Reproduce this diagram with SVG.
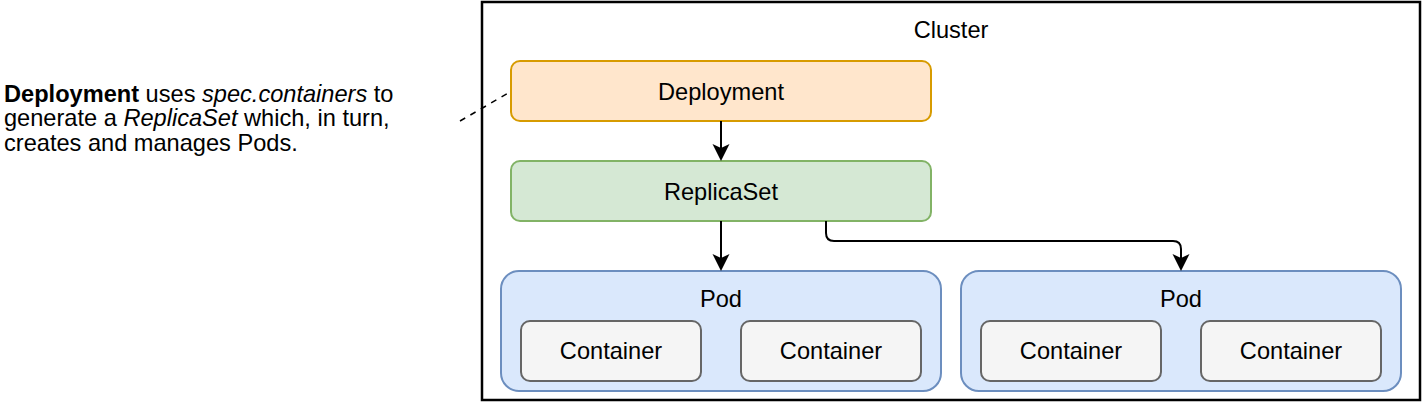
<svg xmlns="http://www.w3.org/2000/svg" width="1422" height="402" viewBox="0 0 1422 402">
<style>
text{font-family:"Liberation Sans",Arial,Helvetica,sans-serif;font-size:23.6px;fill:#000}
.c{text-anchor:middle}
.edge{fill:none;stroke:#000;stroke-width:2}
.dash{fill:none;stroke:#000;stroke-width:1.5;stroke-dasharray:6 6}
.dep{fill:#ffe6cc;stroke:#d79b00;stroke-width:2}
.rs{fill:#d5e8d4;stroke:#82b366;stroke-width:2}
.pod{fill:#dae8fc;stroke:#6c8ebf;stroke-width:2}
.ctr{fill:#f5f5f5;stroke:#666666;stroke-width:2}
</style>
<defs>
<marker id="arr" markerUnits="userSpaceOnUse" markerWidth="20" markerHeight="20" viewBox="-5 -10 20 20" refX="0" refY="0" orient="auto">
<path d="M13,0 L-4,-8.5 L0,0 L-4,8.5 Z" fill="#000"/>
</marker>
</defs>
<g id="cluster">
<rect x="482" y="2" width="938" height="398" fill="#fff" stroke="#000" stroke-width="2.5"/>
<text class="c" x="951" y="37.5">Cluster</text>
</g>
<g id="note">
<text x="4" y="101.7"><tspan font-weight="bold">Deployment</tspan> uses <tspan font-style="italic">spec.containers</tspan> to</text>
<text x="4" y="126.3">generate a <tspan font-style="italic">ReplicaSet</tspan> which, in turn,</text>
<text x="4" y="151">creates and manages Pods.</text>
</g>
<g id="deployment">
<rect class="dep" x="511" y="61" width="420" height="60" rx="9"/>
<text class="c" x="721" y="99.5">Deployment</text>
</g>
<g id="replicaset">
<rect class="rs" x="511" y="161" width="420" height="60" rx="9"/>
<text class="c" x="721" y="199.5">ReplicaSet</text>
</g>
<g id="pod1">
<rect class="pod" x="501" y="271" width="440" height="120" rx="18"/>
<text class="c" x="721" y="307">Pod</text>
</g>
<g id="pod1-container1">
<rect class="ctr" x="521" y="321" width="180" height="60" rx="9"/>
<text class="c" x="611" y="359.4">Container</text>
</g>
<g id="pod1-container2">
<rect class="ctr" x="741" y="321" width="180" height="60" rx="9"/>
<text class="c" x="831" y="359.4">Container</text>
</g>
<g id="pod2">
<rect class="pod" x="961" y="271" width="440" height="120" rx="18"/>
<text class="c" x="1181" y="307">Pod</text>
</g>
<g id="pod2-container1">
<rect class="ctr" x="981" y="321" width="180" height="60" rx="9"/>
<text class="c" x="1071" y="359.4">Container</text>
</g>
<g id="pod2-container2">
<rect class="ctr" x="1201" y="321" width="180" height="60" rx="9"/>
<text class="c" x="1291" y="359.4">Container</text>
</g>
<g id="connectors">
<path class="dash" d="M460,121 L511,91.5"/>
<path class="edge" d="M721,121 V148" marker-end="url(#arr)"/>
<path class="edge" d="M721,221 V258" marker-end="url(#arr)"/>
<path class="edge" d="M826,221 V233 Q826,241 834,241 H1173 Q1181,241 1181,249 V258" marker-end="url(#arr)"/>
</g>
</svg>
